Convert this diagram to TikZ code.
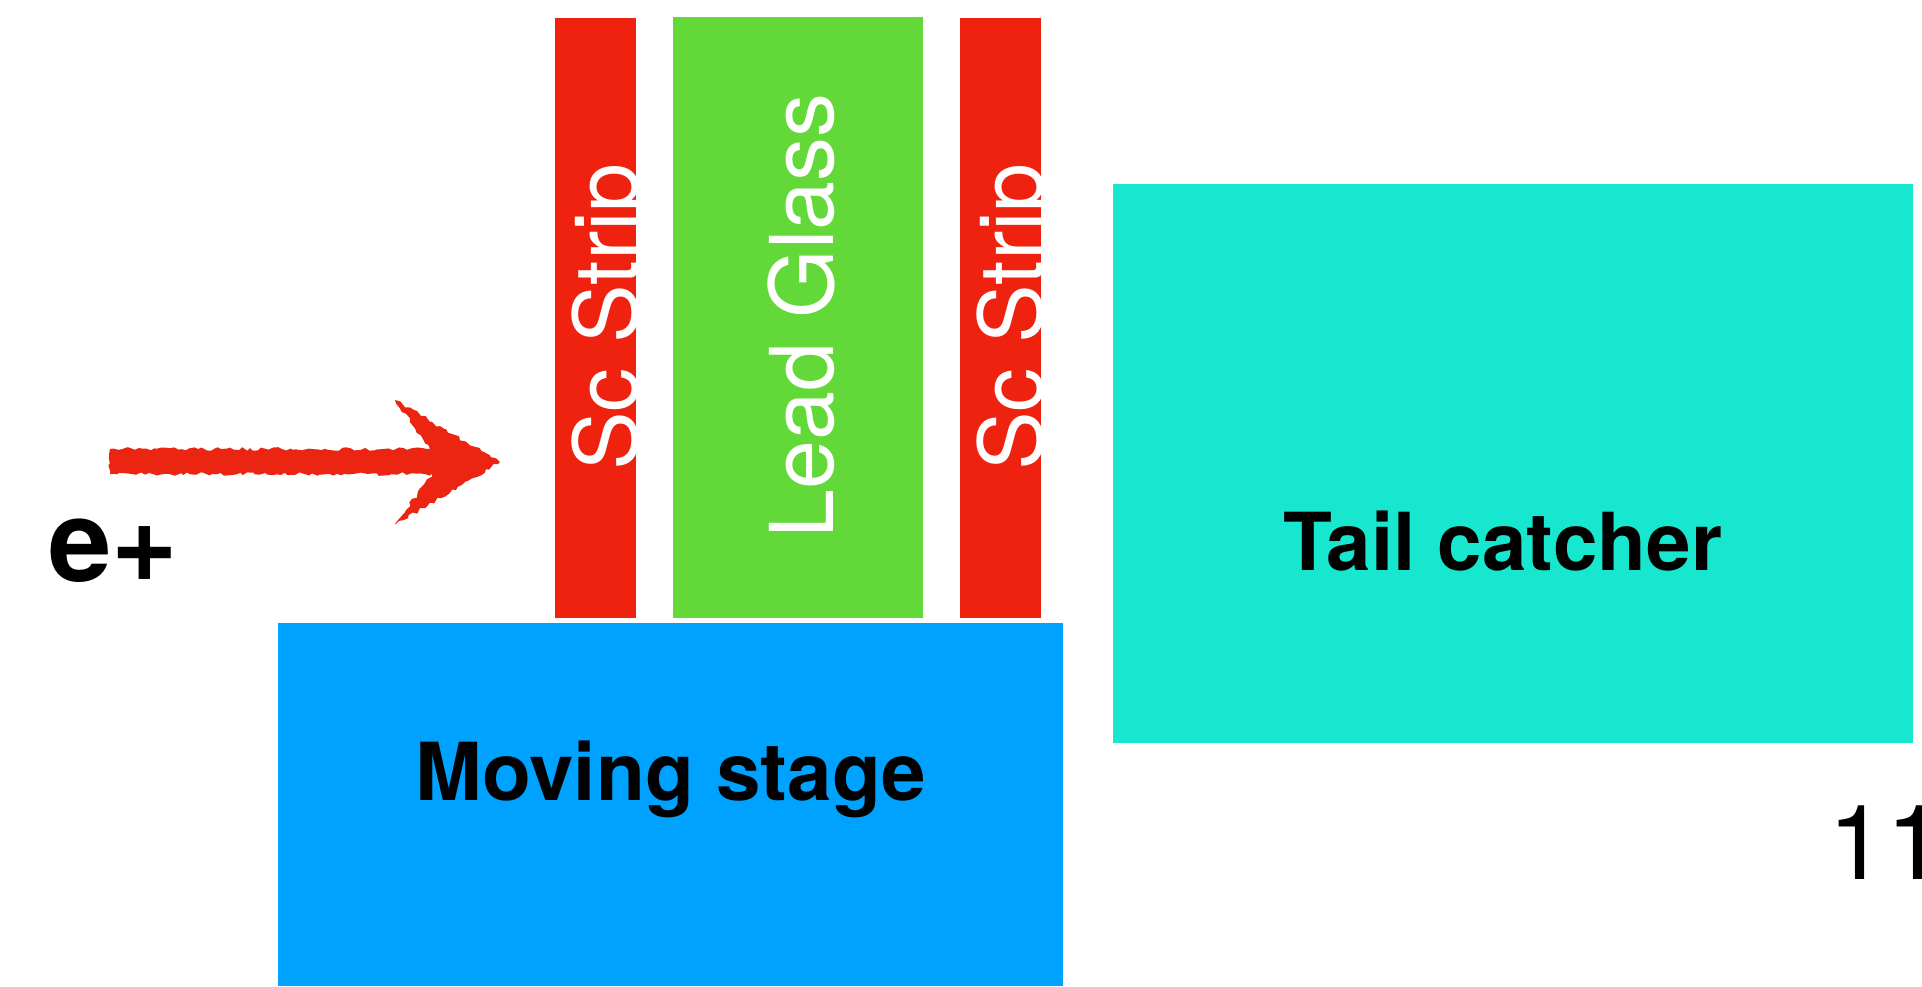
\documentclass[tikz,border=0pt]{standalone}
\usepackage{fontspec}
\setmainfont{TeX Gyre Heros}
\usetikzlibrary{decorations.pathmorphing}
\definecolor{stripred}{RGB}{238,34,14}
\definecolor{glassgreen}{RGB}{98,217,56}
\definecolor{stageblue}{RGB}{0,162,255}
\definecolor{tailteal}{RGB}{24,231,208}
\definecolor{arrowred}{RGB}{236,36,18}
\tikzset{
  vlabel/.style={rotate=90, anchor=base, text=white, inner sep=0pt, font=\fontsize{44}{50}\selectfont},
  boxlabel/.style={anchor=base, text=black, inner sep=0pt, font=\fontsize{40}{46}\selectfont\bfseries},
}
\begin{document}
\begin{tikzpicture}[x=0.5pt,y=-0.5pt]
\useasboundingbox (0,0) rectangle (1922,986);
\fill[white] (0,0) rectangle (1922,986);
% blocks
\fill[stripred] (555,18) rectangle (636,618);
\fill[glassgreen] (673,17) rectangle (923,618);
\fill[stripred] (960,18) rectangle (1041,618);
\fill[stageblue] (278,623) rectangle (1063,986);
\fill[tailteal] (1113,184) rectangle (1913,743);
% labels in strips (clipped at strip edges)
\begin{scope}
\clip (555,18) rectangle (636,618);
\node[vlabel] (sc1) at (637,317) {Sc Strip};
\end{scope}
\begin{scope}
\clip (960,18) rectangle (1041,618);
\node[vlabel] (sc2) at (1042,317) {Sc Strip};
\end{scope}
\node[vlabel] (lg) at (833,316) {Lead Glass};
\node[boxlabel] (ms) at (671,800) {Moving stage};
\node[boxlabel] (tc) at (1503,570) {Tail catcher};
% beam arrow
\pgfmathsetseed{7}
\fill[arrowred, decorate, decoration={random steps, segment length=2pt, amplitude=0.9pt}]
  (110,449) -- (430,449) -- (395,400) -- (500,462) -- (395,525) -- (432,474) -- (110,474) -- cycle;
\node[anchor=base west, inner sep=0pt, font=\fontsize{57}{64}\selectfont\bfseries] (ep) at (48,581) {e+};
\node[anchor=base west, inner sep=0pt, font=\fontsize{52}{60}\selectfont] (num) at (1828,879) {11};
\end{tikzpicture}
\end{document}
